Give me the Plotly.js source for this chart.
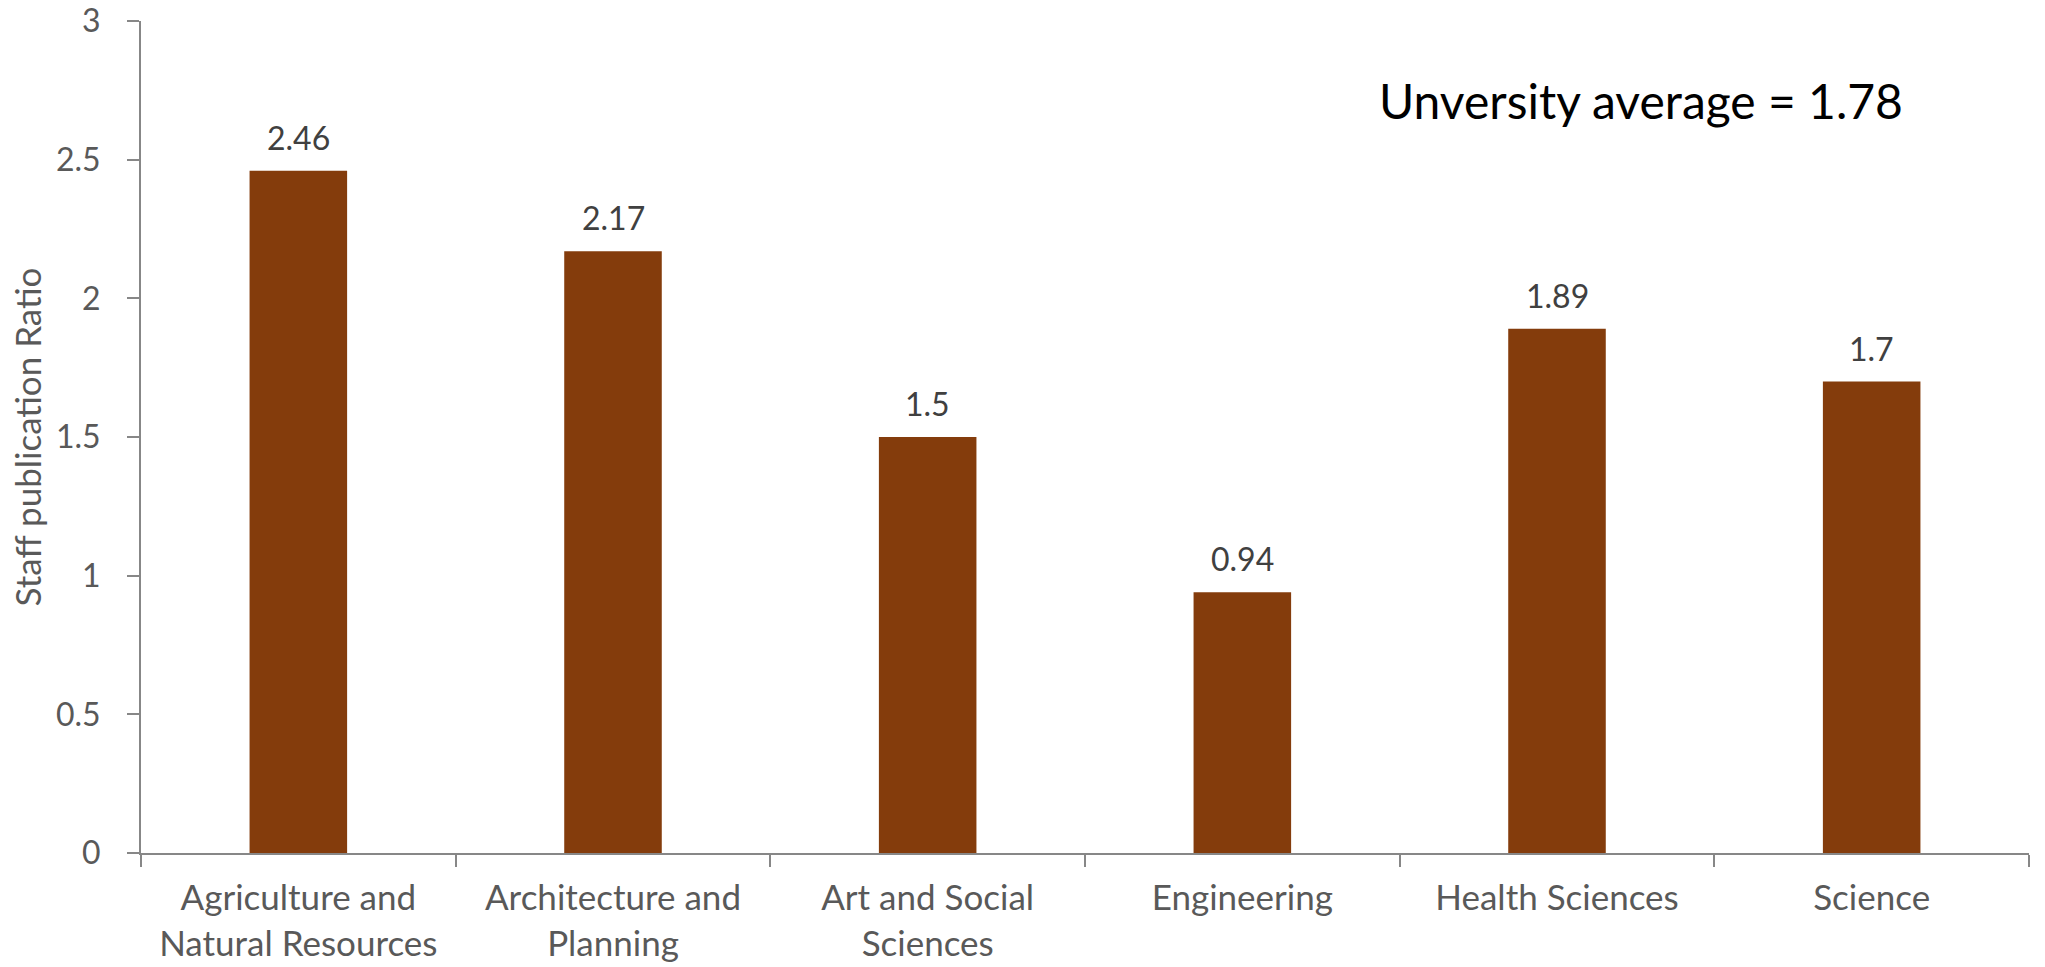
<!DOCTYPE html>
<html>
<head>
<meta charset="utf-8">
<script src="https://cdn.plot.ly/plotly-3.0.1.min.js"></script>
<style>html,body{margin:0;padding:0;background:#fff;}#chart{width:2045px;height:967px;}</style>
</head>
<body>
<div id="chart"></div>
<script>
const categories = ["Agriculture and<br>Natural Resources", "Architecture and<br>Planning", "Art and Social<br>Sciences", "Engineering", "Health Sciences", "Science"];
const ratios = [2.46, 2.17, 1.5, 0.94, 1.89, 1.7];
const valueLabels = ["2.46", "2.17", "1.5", "0.94", "1.89", "1.7"];
const yTickValues = [0, 0.5, 1, 1.5, 2, 2.5, 3];
const yTickLabels = ["0", "0.5", "1", "1.5", "2", "2.5", "3"];
const averageNote = "Unversity average = 1.78";
const yTitle = "Staff publication Ratio";

const FONT = "Lato, 'Open Sans', sans-serif";
const axisGray = "#878787";

const trace = {
  type: "bar",
  x: categories,
  y: ratios,
  marker: {color: "#843C0C", line: {width: 0}},
  hoverinfo: "skip"
};

const annotations = categories.map((c, i) => ({
  x: c, y: ratios[i], xref: "x", yref: "y",
  text: valueLabels[i], showarrow: false,
  yanchor: "bottom", yshift: 12,
  font: {family: FONT, size: 32, color: "#404040"}
}));
annotations.push({
  x: 0.7945, y: 0.905, xref: "paper", yref: "paper",
  text: averageNote, showarrow: false,
  xanchor: "center", yanchor: "middle",
  font: {family: FONT, size: 48, color: "#000000"}
});

const layout = {
  width: 2045, height: 967,
  margin: {l: 141, r: 16, t: 21, b: 114, pad: 0},
  paper_bgcolor: "#ffffff", plot_bgcolor: "#ffffff",
  showlegend: false,
  bargap: 0.69,
  font: {family: FONT, color: "#595959"},
  xaxis: {
    type: "category",
    showline: true, linecolor: axisGray, linewidth: 2,
    ticks: "outside", tickson: "boundaries", ticklen: 12, tickwidth: 2, tickcolor: axisGray,
    showgrid: false, zeroline: false,
    tickfont: {family: FONT, size: 35, color: "#595959"},
    ticklabelstandoff: 13,
    automargin: false
  },
  yaxis: {
    range: [0, 3],
    tickvals: yTickValues, ticktext: yTickLabels,
    showline: true, linecolor: axisGray, linewidth: 2,
    ticks: "outside", ticklen: 12, tickwidth: 2, tickcolor: axisGray,
    showgrid: false, zeroline: false,
    tickfont: {family: FONT, size: 32, color: "#595959"},
    ticklabelstandoff: 20,
    title: {text: yTitle, font: {family: FONT, size: 35, color: "#595959"}, standoff: 4},
    automargin: false
  },
  annotations: annotations
};

Plotly.newPlot("chart", [trace], layout, {displayModeBar: false, staticPlot: true});
</script>
</body>
</html>
